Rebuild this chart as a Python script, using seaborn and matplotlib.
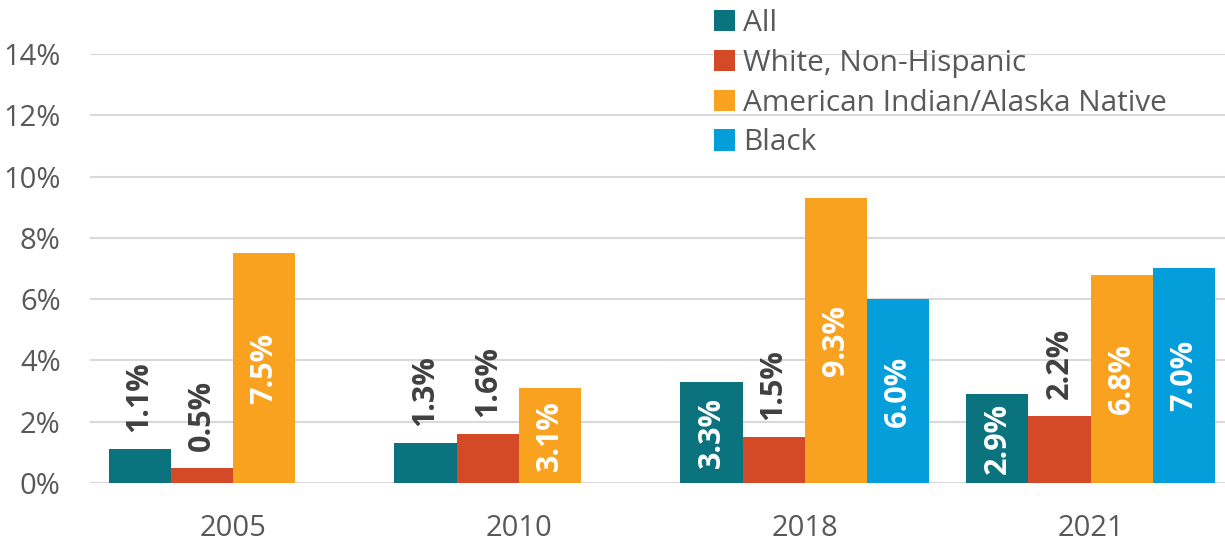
import numpy as np
import pandas as pd
import matplotlib.pyplot as plt
import seaborn as sns

# Data (percent)
years = ["2005", "2010", "2018", "2021"]
groups = ["All", "White, Non-Hispanic", "American Indian/Alaska Native", "Black"]
all_vals = [1.1, 1.3, 3.3, 2.9]
white_vals = [0.5, 1.6, 1.5, 2.2]
aian_vals = [7.5, 3.1, 9.3, 6.8]
black_vals = [np.nan, np.nan, 6.0, 7.0]

colors = ["#0B737D", "#D44A27", "#F8A21F", "#049FDA"]

# Long-form table for seaborn
rows = []
for g, vals in zip(groups, [all_vals, white_vals, aian_vals, black_vals]):
    for y, v in zip(years, vals):
        rows.append({"Year": y, "Group": g, "Value": v})
df = pd.DataFrame(rows)

sns.set_style("white")
plt.rcParams['font.family'] = ['Open Sans', 'DejaVu Sans']

fig = plt.figure(figsize=(12.25, 5.42), dpi=100)
ax = fig.add_axes([90 / 1225, 0.1089, 1 - 90 / 1225, 0.7915])

sns.barplot(data=df, x="Year", y="Value", hue="Group", order=years,
            hue_order=groups, palette=colors, width=0.87, saturation=1,
            errorbar=None, linewidth=0, ax=ax, zorder=2)

# Value labels: inside (white) for tall bars, above (dark) for short ones
for bar in ax.patches:
    h = bar.get_height()
    if h is None or np.isnan(h) or h == 0:
        continue
    xc = bar.get_x() + bar.get_width() / 2
    if h > 2.5:
        ax.text(xc, h / 2, f"{h:.1f}%", rotation=90, ha="center", va="center",
                color="white", fontsize=22, fontweight="bold", zorder=3)
    else:
        ax.text(xc, h + 0.55, f"{h:.1f}%", rotation=90, ha="center", va="bottom",
                color="#404040", fontsize=22, fontweight="bold", zorder=3)

ax.set_ylim(0, 14)
ax.set_xlim(-0.5, 3.47)
ax.set_yticks(range(0, 15, 2))
ax.set_yticklabels([f"{t}%" for t in range(0, 15, 2)])
ax.yaxis.grid(True, color="#D9D9D9", linewidth=1.5, zorder=0)
ax.set_axisbelow(True)
for s in ax.spines.values():
    s.set_visible(False)
ax.tick_params(axis="y", length=0, pad=21, labelsize=21, labelcolor="#595959")
ax.tick_params(axis="x", length=0, pad=22, labelsize=21, labelcolor="#595959")
ax.set_xlabel("")
ax.set_ylabel("")

handles, labels = ax.get_legend_handles_labels()
ax.legend(handles, labels, loc="upper left", bbox_to_anchor=(702 / 1225, 1.005),
          bbox_transform=fig.transFigure, frameon=False, fontsize=21.5,
          labelcolor="#595959", handlelength=0.72, handleheight=0.72,
          handletextpad=0.25, labelspacing=0.36, borderaxespad=0.0)

plt.savefig("out.png", dpi=100)
